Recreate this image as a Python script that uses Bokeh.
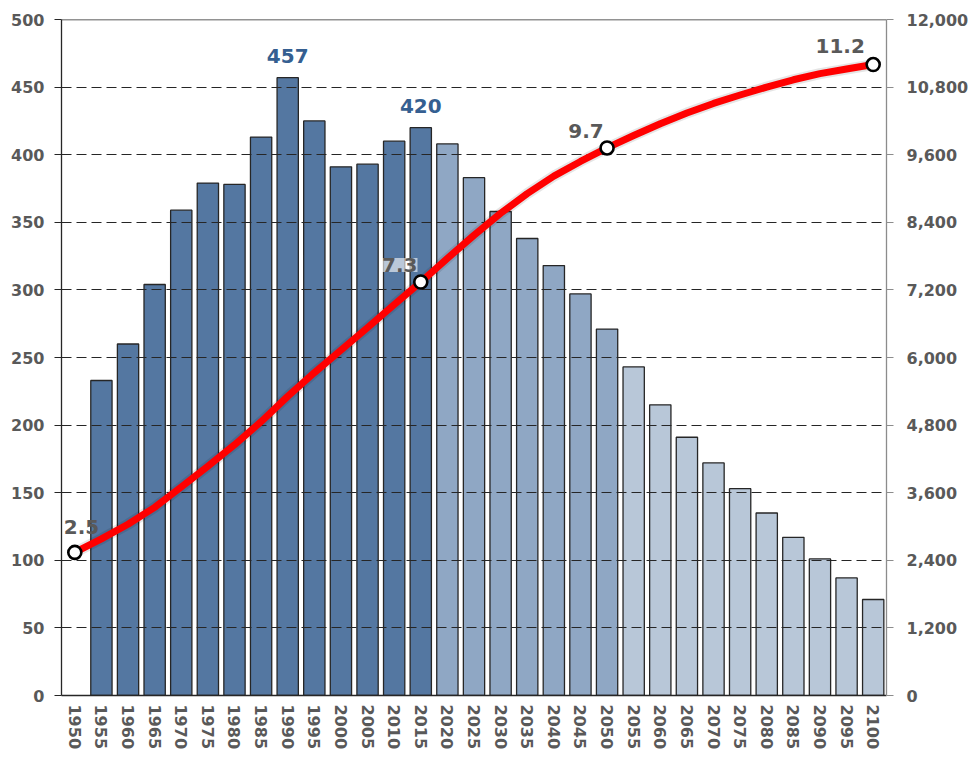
import numpy as np
from bokeh.plotting import figure
from bokeh.models import (Range1d, LinearAxis, FixedTicker, NumeralTickFormatter,
                          ColumnDataSource, Label)
from bokeh.embed import file_html
from bokeh.resources import INLINE

# ---------------- data ----------------
years = list(range(1950, 2101, 5))
bar_values = [np.nan, 233, 260, 304, 359, 379, 378, 413, 457, 425, 391, 393, 410, 420,
              408, 383, 358, 338, 318, 297, 271,
              243, 215, 191, 172, 153, 135, 117, 101, 87, 71]
population = [2540, 2780, 3040, 3340, 3700, 4070, 4450, 4860, 5310, 5730, 6130, 6530,
              6940, 7340, 7760, 8170, 8560, 8910, 9220, 9480, 9720, 9940, 10150, 10340,
              10510, 10660, 10800, 10930, 11040, 11120, 11200]
left_ticks = list(range(0, 501, 50))
right_ticks = list(range(0, 12001, 1200))
bar_label_years = [1990, 2015]
pop_label_years = [1950, 2015, 2050, 2100]

# ---------------- styles ----------------
DARK, MID, LIGHT = "#5477A1", "#8FA7C4", "#B8C7D8"
TICK_COLOR = "#595959"
FONT = "DejaVu Sans"


def bar_color(y):
    if y <= 2015:
        return DARK
    if y <= 2050:
        return MID
    return LIGHT


src = ColumnDataSource(dict(x=years, top=bar_values,
                            color=[bar_color(y) for y in years]))

p = figure(width=975, height=758, output_backend="svg", toolbar_location=None,
           x_range=Range1d(1947.5, 2102.5), y_range=Range1d(0, 500),
           min_border_left=61, min_border_right=89, min_border_top=19,
           min_border_bottom=63, outline_line_color=None,
           background_fill_color="white", border_fill_color="white")
p.extra_y_ranges = {"pop": Range1d(0, 12000)}
p.grid.visible = False

# bars
p.vbar(x="x", top="top", width=4.0, bottom=0, source=src, fill_color="color",
       line_color="#262626", line_width=1.3)

# grid lines (over bars, under the line)
p.hspan(y=left_ticks[1:-1], line_color="#262626", line_width=1, line_dash="10 5")
p.hspan(y=[left_ticks[-1]], line_color="#262626", line_width=1.5)

# population line
p.line(years, population, y_range_name="pop", line_color="#000000", line_alpha=0.10,
       line_width=11, line_join="round", line_cap="round")
p.line(years, population, y_range_name="pop", line_color="#FF0000", line_width=7,
       line_join="round", line_cap="round")
mk_x = [y for y in pop_label_years]
mk_y = [population[years.index(y)] for y in pop_label_years]
p.scatter(mk_x, mk_y, y_range_name="pop", size=13, fill_color="white",
          line_color="black", line_width=2.6)

# axes
p.yaxis.ticker = FixedTicker(ticks=left_ticks)
ax_l = p.yaxis[0]
ax_l.axis_line_color = "#262626"
ax_l.axis_line_width = 1.3
ax_l.major_tick_line_color = "#262626"
ax_l.major_tick_out = 7
ax_l.major_tick_in = 0
ax_l.minor_tick_line_color = None
ax_l.major_label_standoff = 10

ax_r = LinearAxis(y_range_name="pop", ticker=FixedTicker(ticks=right_ticks),
                  formatter=NumeralTickFormatter(format="0,0"))
ax_r.axis_line_color = "#8C8C8C"
ax_r.axis_line_width = 1.3
ax_r.major_tick_line_color = "#8C8C8C"
ax_r.major_tick_out = 7
ax_r.major_tick_in = 0
ax_r.minor_tick_line_color = None
ax_r.major_label_standoff = 13
p.add_layout(ax_r, "right")

ax_b = p.xaxis[0]
ax_b.ticker = FixedTicker(ticks=years)
ax_b.major_label_orientation = "vertical"
ax_b.axis_line_color = "#262626"
ax_b.axis_line_width = 1.3
ax_b.major_tick_line_color = None
ax_b.major_tick_out = 0
ax_b.major_tick_in = 0
ax_b.minor_tick_line_color = None
ax_b.major_label_standoff = 9

for ax in (ax_l, ax_r, ax_b):
    ax.major_label_text_font = FONT
    ax.major_label_text_font_style = "bold"
    ax.major_label_text_font_size = "16px"
    ax.major_label_text_color = TICK_COLOR

# bar value labels
for y in bar_label_years:
    v = bar_values[years.index(y)]
    p.add_layout(Label(x=y, y=v, text=f"{v:.0f}", text_align="center",
                       text_baseline="alphabetic", y_offset=22, text_font=FONT,
                       text_font_style="bold", text_font_size="20px",
                       text_color="#355F91"))

# population labels (the first one is kept inside the plot frame)
offsets = {1950: (-11, 25, "left"), 2015: (-21, 17, "center"),
           2050: (-21, 17, "center"), 2100: (-33, 19, "center")}
for y in pop_label_years:
    v = population[years.index(y)]
    dx, dy, align = offsets[y]
    kw = {}
    if y == 2015:
        kw = dict(background_fill_color="white", background_fill_alpha=0.6)
    p.add_layout(Label(x=y, y=v, y_range_name="pop", text=f"{v/1000:.1f}",
                       text_align=align, text_baseline="alphabetic",
                       x_offset=dx, y_offset=dy, text_font=FONT,
                       text_font_style="bold", text_font_size="20px",
                       text_color="#595959", **kw))

open("out.html", "w").write(file_html(p, INLINE))
